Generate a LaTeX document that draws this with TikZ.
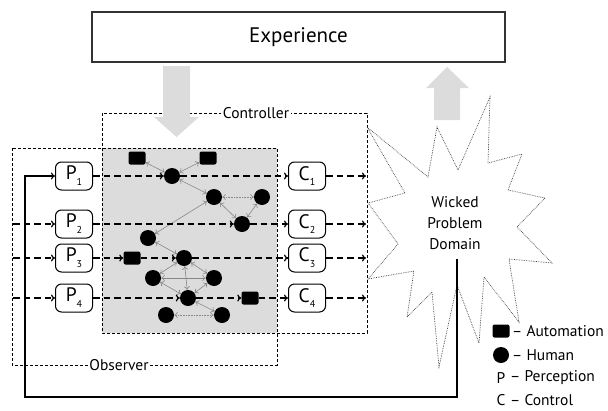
\documentclass[tikz,border=0pt]{standalone}
\usepackage{fontspec}
\setmainfont{PT Sans}
\usetikzlibrary{arrows.meta}
\definecolor{panel}{RGB}{220,220,220}
\definecolor{link}{RGB}{135,135,135}
\newcommand\lowidx[1]{\raisebox{-0.6ex}{\fontsize{10pt}{10pt}\selectfont #1}}

\begin{document}
\begin{tikzpicture}[x=1pt,y=-1pt,
  lbl/.style={font=\fontsize{15.5pt}{21pt}\selectfont, inner sep=1.5pt},
  boxline/.style={line width=0.9pt, dash pattern=on 3pt off 2pt},
  flow/.style={line width=1.2pt, dash pattern=on 6.5pt off 4pt, -{To[length=4pt,width=7pt]}},
  io/.style={draw, line width=1pt, rounded corners=6pt, minimum width=37pt, minimum height=28pt, inner sep=0pt, font=\fontsize{19.5pt}{20pt}\selectfont},
  human/.style={circle, fill=black, minimum size=16pt, inner sep=0pt},
  robot/.style={rectangle, rounded corners=2pt, fill=black, minimum width=17pt, minimum height=13pt, inner sep=0pt},
  tie/.style={link, line width=0.6pt, {To[length=3.5pt,width=6pt]}-{To[length=3.5pt,width=6pt]}},
  looptie/.style={tie, densely dotted},
  bigarrow/.style={fill=panel, draw=none},
]
\useasboundingbox (0,0) rectangle (608,410);

% shared region of controller and observer
\fill[panel] (102,148) rectangle (277,333);
\draw[boxline] (102,113) rectangle (367,333);
\draw[boxline] (12,148) rectangle (277,365);
\node[lbl, fill=white] (ctl) at (256,113) {Controller};
\node[lbl, fill=white] (obs) at (119,365) {Observer};

% experience and the two block arrows
\node[draw=black!80, line width=1.2pt, fill=white, minimum width=413pt, minimum height=50pt,
      font=\fontsize{21pt}{24pt}\selectfont] (exp) at (298.5,37) {Experience};
\fill[bigarrow] (163,66) -- (190,66) -- (190,117) -- (199,117) -- (176.5,137) -- (154,117) -- (163,117) -- cycle;
\fill[bigarrow] (434,120) -- (460,120) -- (460,88) -- (469,88) -- (447,67) -- (426,88) -- (434,88) -- cycle;

% problem domain
\draw[black!75, line width=0.7pt, densely dotted]
  (367,127) -- (428,177) -- (437,127) -- (458,170) -- (490,97) -- (488,163) -- (522,154) -- (508,190)
  -- (545,198) -- (517,227) -- (552,263) -- (509,259) -- (519,322) -- (484,277) -- (479,343)
  -- (457,285) -- (439,367) -- (432,292) -- (407,317) -- (414,271) -- (368,279) -- (398,244)
  -- (368,203) -- (405,193) -- cycle;
\node[lbl, align=center] (wpd) at (455,223) {Wicked\\Problem\\Domain};

% perception and control nodes
\node[io] (p1) at (74,176) {P\lowidx{1}};
\node[io] (p2) at (74,224) {P\lowidx{2}};
\node[io] (p3) at (74,258) {P\lowidx{3}};
\node[io] (p4) at (74,298) {P\lowidx{4}};
\node[io] (c1) at (307,176) {C\lowidx{1}};
\node[io] (c2) at (307,224) {C\lowidx{2}};
\node[io] (c3) at (307,258) {C\lowidx{3}};
\node[io] (c4) at (307,298) {C\lowidx{4}};

% agents
\node[robot] (a1) at (137,158) {};
\node[robot] (a2) at (208,158) {};
\node[robot] (a3) at (132,258) {};
\node[robot] (a4) at (250,298) {};
\node[human] (h1) at (172,176) {};
\node[human] (h2) at (214,197) {};
\node[human] (h3) at (262,197) {};
\node[human] (h4) at (242,224) {};
\node[human] (h5) at (148,238) {};
\node[human] (h6) at (184,258) {};
\node[human] (h7) at (153,278) {};
\node[human] (h8) at (214,278) {};
\node[human] (h9) at (188,298) {};
\node[human] (h10) at (166,315) {};
\node[human] (h11) at (222,315) {};

% links between agents
\foreach \u/\v in {a1/h1, a2/h1, h1/h2, h2/h4, h3/h4, h2/h5, h5/h6, h6/h7, h6/h8,
                   h6/h9, h7/h8, h7/h9, h8/h9, h9/h11}
  \draw[tie] (\u) -- (\v);
\draw[looptie] (h2) -- (h3);
\draw[looptie] (h10) -- (h11);

% observer inputs and controller outputs
\coordinate (i2) at (13,224);
\coordinate (i3) at (13,258);
\coordinate (i4) at (13,298);
\coordinate (e1) at (366,176);
\coordinate (e2) at (366,224);
\coordinate (e3) at (366,258);
\coordinate (e4) at (366,298);

\draw[flow] (i2) -- (p2);
\draw[flow] (i3) -- (p3);
\draw[flow] (i4) -- (p4);

\draw[flow] (p1) -- (h1);
\draw[flow] (h1) -- (c1);
\draw[flow] (p2) -- (h4);
\draw[flow] (h4) -- (c2);
\draw[flow] (p3) -- (a3);
\draw[flow] (a3) -- (h6);
\draw[flow] (h6) -- (c3);
\draw[flow] (p4) -- (h9);
\draw[flow] (h9) -- (a4);
\draw[flow] (a4) -- (c4);

\draw[flow] (c1) -- (e1);
\draw[flow] (c2) -- (e2);
\draw[flow] (c3) -- (e3);
\draw[flow] (c4) -- (e4);

% feedback from the domain to the first perception
\coordinate (fbtop) at (457,259);
\coordinate (fbr) at (457,397);
\coordinate (fbl) at (25,397);
\draw[line width=1.1pt, -{To[length=4pt,width=7pt]}] (fbtop) -- (fbr) -- (fbl) |- (p1);

% legend
\node[robot] (ka) at (501,331) {};
\node[human] (kh) at (501,355) {};
\node[lbl, inner sep=0pt] (kp) at (501,378) {P};
\node[lbl, inner sep=0pt] (kc) at (501,400.5) {C};
\node[lbl, anchor=west, inner sep=0pt] (kat) at (512,331) {– Automation};
\node[lbl, anchor=west, inner sep=0pt] (kht) at (512,355) {– Human};
\node[lbl, anchor=west, inner sep=0pt] (kpt) at (510,378) {– Perception};
\node[lbl, anchor=west, inner sep=0pt] (kct) at (510,400.5) {– Control};
\end{tikzpicture}
\end{document}
